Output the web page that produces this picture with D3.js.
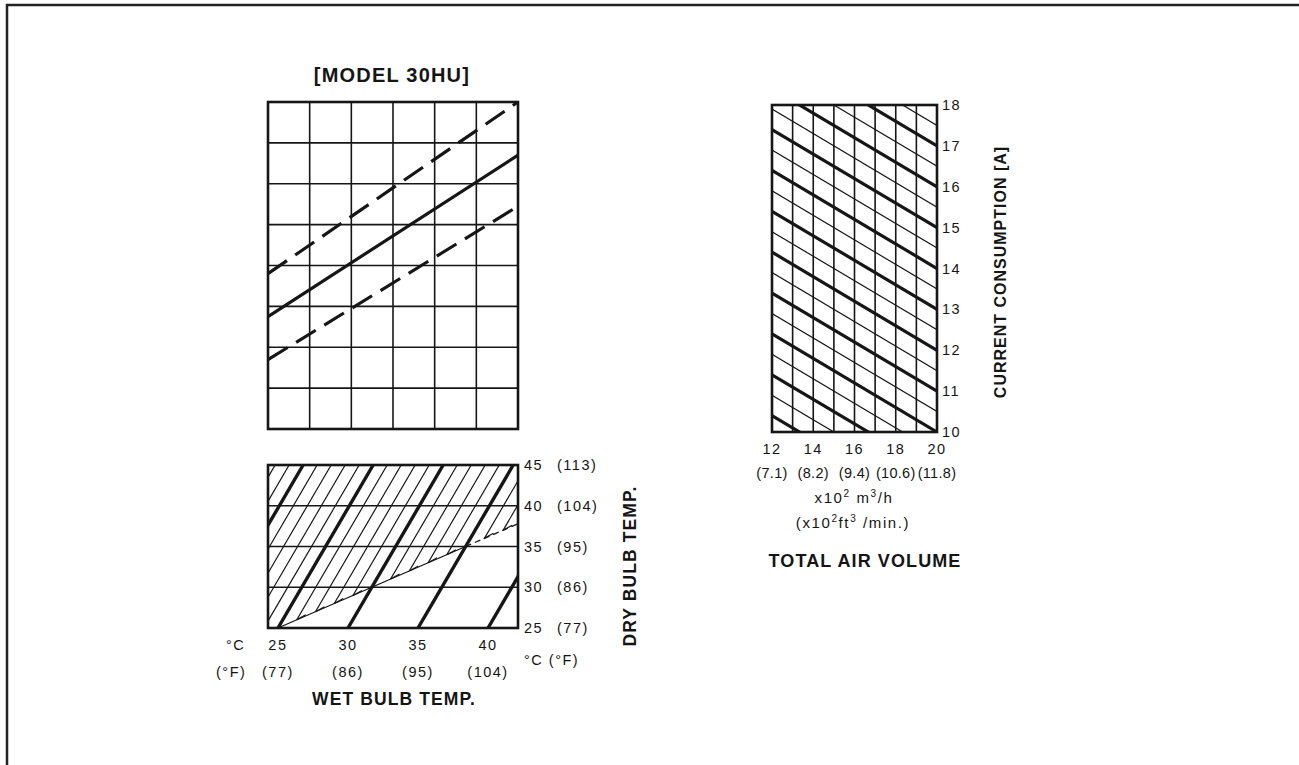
<!DOCTYPE html>
<html lang="en">
<head>
<meta charset="UTF-8">
<title>Model 30HU</title>
<script src="https://cdnjs.cloudflare.com/ajax/libs/d3/7.8.5/d3.min.js"></script>
<style>
	body { margin: 0; background: #fff; }
	svg text { font-family: "Liberation Sans", Arial, sans-serif; fill: #151515; }
	.lbl { font-size: 14.5px; letter-spacing: 1.5px; }
	.lbl2 { font-size: 14.5px; letter-spacing: 0.3px; }
	.lbl3 { font-size: 15px; letter-spacing: 1.6px; }
	.ttl { font-size: 17.5px; font-weight: bold; letter-spacing: 1.1px; }
</style>
</head>
<body>
<div id="viz"></div>
<script>
// ---- top chart (capacity lines, in grid units) ----
var gridCols = [0, 1, 2, 3, 4, 5, 6];
var gridRows = [0, 1, 2, 3, 4, 5, 6, 7, 8];
var lineEnds = [0, 6];
var capUpper = [3.8, 8.0];
var capMid = [2.75, 6.7];
var capLower = [1.7, 5.45];

// ---- bottom chart (wet / dry bulb nomograph) ----
var wbTicks = [25, 30, 35, 40];
var wbTicksF = ['(77)', '(86)', '(95)', '(104)'];
var dbTicks = [25, 30, 35, 40, 45];
var dbTicksF = ['(77)', '(86)', '(95)', '(104)', '(113)'];
var hatchWB = [14, 15, 16, 17, 18, 19, 20, 21, 22, 23, 24, 25, 26, 27, 28, 29, 30, 31, 32, 33, 34, 35, 36, 37, 38, 39, 40, 41, 42];
var thickWB = [15, 20, 25, 30, 35, 40];
var wbShift = 6.8;          // wet bulb drift of a line from 25 to 45 dry bulb
var satSolid = [25, 35];    // saturation line, solid part (dry bulb)
var satDashed = [35, 38];

// ---- right chart (current vs air volume) ----
var airTicks = [12, 14, 16, 18, 20];
var airTicksF = ['(7.1)', '(8.2)', '(9.4)', '(10.6)', '(11.8)'];
var airGrid = [13, 14, 15, 16, 17, 18, 19];
var ampTicks = [10, 11, 12, 13, 14, 15, 16, 17, 18];
var ampThick = [8, 9, 10, 11, 12, 13, 14, 15, 16, 17, 18];
var ampThin = [7.5, 8.5, 9.5, 10.5, 11.5, 12.5, 13.5, 14.5, 15.5, 16.5, 17.5];
var ampSlope = 0.3;         // A per 100 m3/h

var svg = d3.select('#viz').append('svg')
	.attr('width', 1299)
	.attr('height', 765);

// page frame
svg.append('path')
	.attr('d', 'M7,765V5H1299')
	.attr('fill', 'none')
	.attr('stroke', '#222')
	.attr('stroke-width', 2.5);

var ink = '#161616';

// ===== top chart =====
var gx = d3.scaleLinear().domain([0, 6]).range([268, 518]);
var gy = d3.scaleLinear().domain([0, 8]).range([429, 102]);

var topG = svg.append('g');
topG.selectAll('.vgrid').data(gridCols.slice(1, -1)).enter().append('line')
	.attr('x1', function (d) { return gx(d); }).attr('x2', function (d) { return gx(d); })
	.attr('y1', gy(0)).attr('y2', gy(8))
	.attr('stroke', ink).attr('stroke-width', 1.6);
topG.selectAll('.hgrid').data(gridRows.slice(1, -1)).enter().append('line')
	.attr('x1', gx(0)).attr('x2', gx(6))
	.attr('y1', function (d) { return gy(d); }).attr('y2', function (d) { return gy(d); })
	.attr('stroke', ink).attr('stroke-width', 1.6);
topG.append('rect')
	.attr('x', gx(0)).attr('y', gy(8))
	.attr('width', gx(6) - gx(0)).attr('height', gy(0) - gy(8))
	.attr('fill', 'none').attr('stroke', ink).attr('stroke-width', 2.6);

var capLine = d3.line()
	.x(function (d, i) { return gx(lineEnds[i]); })
	.y(function (d) { return gy(d); });

[[capUpper, '23,10'], [capMid, null], [capLower, '23,10']].forEach(function (s) {
	topG.append('path')
		.attr('d', capLine(s[0]))
		.attr('fill', 'none')
		.attr('stroke', ink)
		.attr('stroke-width', 3.2)
		.attr('stroke-dasharray', s[1]);
});

svg.append('text')
	.attr('x', 392).attr('y', 82)
	.attr('text-anchor', 'middle')
	.style('font-size', '20px').style('font-weight', 'bold').style('letter-spacing', '1.2px')
	.text('[MODEL 30HU]');

// ===== bottom chart =====
var wb = d3.scaleLinear().domain([24.29, 42.14]).range([268, 518]);
var db = d3.scaleLinear().domain([25, 45]).range([628, 465]);
var k = wbShift / 20;
function px(w, t) { return wb(w + (t - 25) * k); }
var tEdge = (wb.domain()[1] + 25 * k) / (1 + k);

var bot = svg.append('g');
var defs = svg.append('defs');
defs.append('clipPath').attr('id', 'boxClip').append('rect')
	.attr('x', wb.range()[0]).attr('y', db(45))
	.attr('width', wb.range()[1] - wb.range()[0]).attr('height', db(25) - db(45));

var hatchPoly = [[wb.range()[0], db(25)], [px(25, 25), db(25)]];
[30, 35, tEdge].forEach(function (t) { hatchPoly.push([px(t, t), db(t)]); });
hatchPoly.push([wb.range()[1], db(45)], [wb.range()[0], db(45)]);
defs.append('clipPath').attr('id', 'hatchClip').append('polygon')
	.attr('points', hatchPoly.map(function (p) { return p.join(','); }).join(' '));

var thinWB = hatchWB.filter(function (w) { return thickWB.indexOf(w) < 0; });
bot.append('g').attr('clip-path', 'url(#hatchClip)')
	.selectAll('line').data(thinWB)
	.enter().append('line')
	.attr('x1', function (w) { return px(w, 25); }).attr('y1', db(25))
	.attr('x2', function (w) { return px(w, 45); }).attr('y2', db(45))
	.attr('stroke', ink).attr('stroke-width', 1.2);

// little hooks where the hatch meets the saturation line
var hookWB = thinWB.filter(function (w) { return w > 25 && w < tEdge - 0.3; });
bot.append('g').attr('clip-path', 'url(#boxClip)')
	.selectAll('line').data(hookWB).enter().append('line')
	.attr('x1', function (w) { return px(w, w); }).attr('y1', function (w) { return db(w); })
	.attr('x2', function (w) { return px(w, w) + 9; }).attr('y2', function (w) { return db(w) - 5; })
	.attr('stroke', ink).attr('stroke-width', 1.2);

bot.selectAll('.dbgrid').data(dbTicks.slice(1, -1)).enter().append('line')
	.attr('x1', wb.range()[0]).attr('x2', wb.range()[1])
	.attr('y1', function (d) { return db(d); }).attr('y2', function (d) { return db(d); })
	.attr('stroke', ink).attr('stroke-width', 1.6);

var satLine = d3.line()
	.x(function (t) { return px(t, t); })
	.y(function (t) { return db(t); });
bot.append('path').attr('d', satLine(satSolid))
	.attr('fill', 'none').attr('stroke', ink).attr('stroke-width', 1.3);
bot.append('path').attr('d', satLine(satDashed)).attr('clip-path', 'url(#boxClip)')
	.attr('fill', 'none').attr('stroke', ink).attr('stroke-width', 1.3)
	.attr('stroke-dasharray', '6,4');

bot.append('g').attr('clip-path', 'url(#boxClip)')
	.selectAll('line').data(thickWB).enter().append('line')
	.attr('x1', function (w) { return px(w, 25); }).attr('y1', db(25))
	.attr('x2', function (w) { return px(w, 45); }).attr('y2', db(45))
	.attr('stroke', ink).attr('stroke-width', 3.4);

bot.append('rect')
	.attr('x', wb.range()[0]).attr('y', db(45))
	.attr('width', wb.range()[1] - wb.range()[0]).attr('height', db(25) - db(45))
	.attr('fill', 'none').attr('stroke', ink).attr('stroke-width', 2.6);

// dry bulb labels (right)
bot.selectAll('.dbl').data(dbTicks).enter().append('text')
	.attr('class', 'lbl')
	.attr('x', 524).attr('y', function (d) { return db(d) + 5; })
	.text(function (d) { return d; });
bot.selectAll('.dblf').data(dbTicksF).enter().append('text')
	.attr('class', 'lbl')
	.attr('x', 557).attr('y', function (d, i) { return db(dbTicks[i]) + 5; })
	.text(function (d) { return d; });
bot.append('text').attr('class', 'lbl').attr('x', 524).attr('y', 665).text('°C (°F)');
bot.append('text').attr('class', 'ttl')
	.attr('transform', 'translate(636,566) rotate(-90)')
	.attr('text-anchor', 'middle')
	.text('DRY BULB TEMP.');

// wet bulb labels (bottom)
bot.selectAll('.wbl').data(wbTicks).enter().append('text')
	.attr('class', 'lbl')
	.attr('x', function (d) { return wb(d); }).attr('y', 650)
	.attr('text-anchor', 'middle')
	.text(function (d) { return d; });
bot.selectAll('.wblf').data(wbTicksF).enter().append('text')
	.attr('class', 'lbl')
	.attr('x', function (d, i) { return wb(wbTicks[i]); }).attr('y', 677)
	.attr('text-anchor', 'middle')
	.text(function (d) { return d; });
bot.append('text').attr('class', 'lbl').attr('x', 226).attr('y', 650).text('°C');
bot.append('text').attr('class', 'lbl').attr('x', 216).attr('y', 677).text('(°F)');
bot.append('text').attr('class', 'ttl')
	.attr('x', 394).attr('y', 705)
	.attr('text-anchor', 'middle')
	.text('WET BULB TEMP.');

// ===== right chart =====
var av = d3.scaleLinear().domain([12, 20]).range([772, 937]);
var cur = d3.scaleLinear().domain([10, 18]).range([432, 105]);

var rc = svg.append('g');
defs.append('clipPath').attr('id', 'ampClip').append('rect')
	.attr('x', av(12)).attr('y', cur(18))
	.attr('width', av(20) - av(12)).attr('height', cur(10) - cur(18));

rc.selectAll('.avgrid').data(airGrid).enter().append('line')
	.attr('x1', function (d) { return av(d); }).attr('x2', function (d) { return av(d); })
	.attr('y1', cur(10)).attr('y2', cur(18))
	.attr('stroke', ink).attr('stroke-width', 1.6);

var diag = rc.append('g').attr('clip-path', 'url(#ampClip)');
diag.selectAll('.thin').data(ampThin).enter().append('line')
	.attr('x1', av(12)).attr('y1', function (d) { return cur(d + ampSlope * 8); })
	.attr('x2', av(20)).attr('y2', function (d) { return cur(d); })
	.attr('stroke', ink).attr('stroke-width', 1.2);
diag.selectAll('.thick').data(ampThick).enter().append('line')
	.attr('x1', av(12)).attr('y1', function (d) { return cur(d + ampSlope * 8); })
	.attr('x2', av(20)).attr('y2', function (d) { return cur(d); })
	.attr('stroke', ink).attr('stroke-width', 3.2);

rc.append('rect')
	.attr('x', av(12)).attr('y', cur(18))
	.attr('width', av(20) - av(12)).attr('height', cur(10) - cur(18))
	.attr('fill', 'none').attr('stroke', ink).attr('stroke-width', 2.6);

rc.selectAll('.ampl').data(ampTicks).enter().append('text')
	.attr('class', 'lbl')
	.attr('x', 942).attr('y', function (d) { return cur(d) + 5; })
	.text(function (d) { return d; });
rc.append('text').attr('class', 'ttl')
	.style('font-size', '16px').style('letter-spacing', '1px')
	.attr('transform', 'translate(1006,272) rotate(-90)')
	.attr('text-anchor', 'middle')
	.text('CURRENT CONSUMPTION [A]');

rc.selectAll('.avl').data(airTicks).enter().append('text')
	.attr('class', 'lbl')
	.attr('x', function (d) { return av(d); }).attr('y', 454)
	.attr('text-anchor', 'middle')
	.text(function (d) { return d; });
rc.selectAll('.avlf').data(airTicksF).enter().append('text')
	.attr('class', 'lbl2')
	.attr('x', function (d, i) { return av(airTicks[i]); }).attr('y', 478)
	.attr('text-anchor', 'middle')
	.text(function (d) { return d; });

// unit lines with raised exponents
function unitText(x, y, parts) {
	var t = rc.append('text').attr('class', 'lbl3')
		.attr('x', x).attr('y', y).attr('text-anchor', 'middle')
		.attr('xml:space', 'preserve');
	parts.forEach(function (p) {
		var s = t.append('tspan').text(p[0]);
		if (p[1]) s.attr('dy', -6).style('font-size', '10px');
		else s.attr('dy', p[2] || 0);
	});
}
unitText(854, 503, [['x10'], ['2', true], [' m', false, 6], ['3', true], ['/h', false, 6]]);
unitText(853, 528, [['(x10'], ['2', true], ['ft', false, 6], ['3', true], [' /min.)', false, 6]]);

rc.append('text').attr('class', 'ttl')
	.style('font-size', '18px')
	.attr('x', 865).attr('y', 567).attr('text-anchor', 'middle')
	.text('TOTAL AIR VOLUME');
</script>
</body>
</html>
